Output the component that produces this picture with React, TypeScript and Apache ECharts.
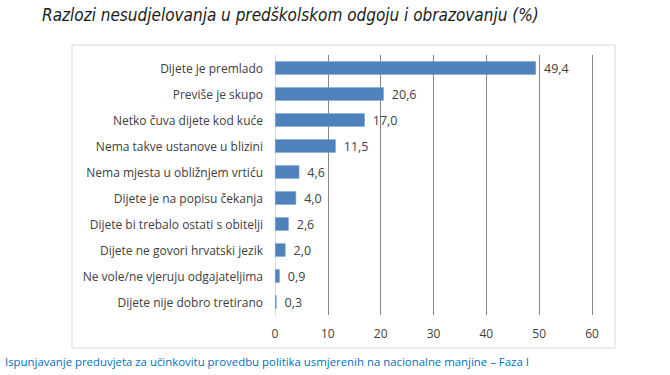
import React, { useEffect, useRef } from "react";
import * as echarts from "echarts";

const categories = [
  "Dijete je premlado",
  "Previše je skupo",
  "Netko čuva dijete kod kuće",
  "Nema takve ustanove u blizini",
  "Nema mjesta u obližnjem vrtiću",
  "Dijete je na popisu čekanja",
  "Dijete bi trebalo ostati s obitelji",
  "Dijete ne govori hrvatski jezik",
  "Ne vole/ne vjeruju odgajateljima",
  "Dijete nije dobro tretirano",
];
const values = [49.4, 20.6, 17.0, 11.5, 4.6, 4.0, 2.6, 2.0, 0.9, 0.3];
const title = "Razlozi nesudjelovanja u predškolskom odgoju i obrazovanju (%)";
const footer = "Ispunjavanje preduvjeta za učinkovitu provedbu politika usmjerenih na nacionalne manjine – Faza I";

export default function App() {
  const ref = useRef<HTMLDivElement>(null);
  useEffect(() => {
    if (!ref.current) return;
    const chart = echarts.init(ref.current, null, { renderer: "svg" });
    chart.setOption({
      animation: false,
      backgroundColor: "#ffffff",
      graphic: [
        {
          type: "rect",
          shape: { x: 72, y: 45, width: 543, height: 303 },
          style: { fill: "none", stroke: "#d9d9d9", lineWidth: 1 },
          silent: true,
        },
        {
          type: "text",
          x: 42,
          y: 6,
          style: {
            text: title,
            font: "italic 17px 'DejaVu Sans Condensed', 'Open Sans', sans-serif",
            fill: "#1a1a1a",
          },
        },
        {
          type: "text",
          x: 5,
          y: 356,
          style: {
            text: footer,
            font: "11.4px 'Open Sans', sans-serif",
            fill: "#0070c0",
          },
        },
      ],
      grid: { left: 275, right: 78, top: 55, bottom: 60, containLabel: false },
      xAxis: {
        type: "value",
        min: 0,
        max: 60,
        interval: 10,
        axisLine: { show: false },
        axisTick: { show: false },
        splitLine: { show: true, lineStyle: { color: "#868686", width: 1 } },
        axisLabel: {
          color: "#404040",
          fontSize: 12,
          fontFamily: "'Open Sans', sans-serif",
          margin: 12,
        },
      },
      yAxis: {
        type: "category",
        data: categories,
        inverse: true,
        axisLine: { show: true, lineStyle: { color: "#d9d9d9" } },
        axisTick: { show: false },
        axisLabel: {
          color: "#404040",
          fontSize: 12,
          fontFamily: "'Open Sans', sans-serif",
          margin: 12,
        },
      },
      series: [
        {
          type: "bar",
          data: values,
          barCategoryGap: "48%",
          itemStyle: { color: "#4f81bd", borderColor: "#7ea6d6", borderWidth: 0.5 },
          label: {
            show: true,
            position: "right",
            distance: 8,
            color: "#404040",
            fontSize: 12.5,
            fontFamily: "'Open Sans', sans-serif",
            formatter: (p: any) => p.value.toFixed(1).replace(".", ","),
          },
        },
      ],
    });
    return () => chart.dispose();
  }, []);
  return <div ref={ref} style={{ width: 670, height: 375, position: "absolute", left: 0, top: 0 }} />;
}
